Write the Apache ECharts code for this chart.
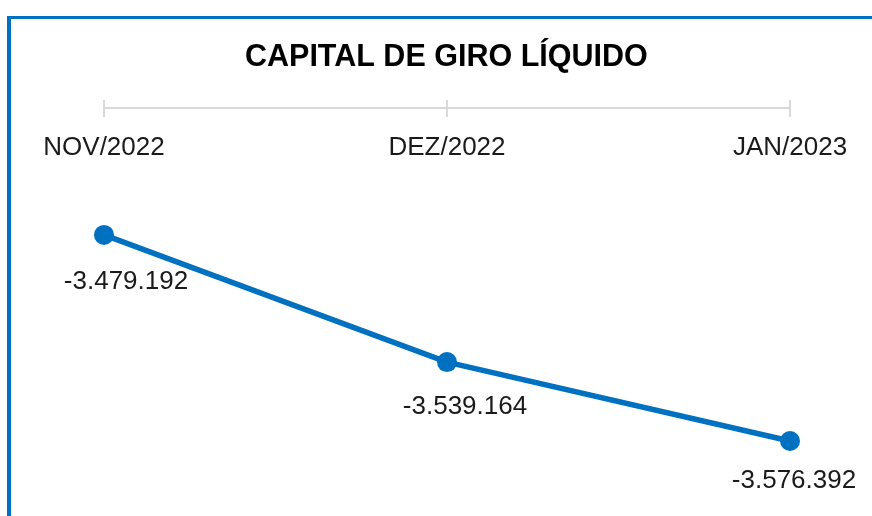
<!DOCTYPE html>
<html>
<head>
<meta charset="utf-8">
<script src="https://cdn.jsdelivr.net/npm/echarts@6/dist/echarts.min.js"></script>
<style>
  html, body { margin: 0; padding: 0; background: #fff; }
  #wrap { position: relative; width: 872px; height: 516px; overflow: hidden; }
  #chart { position: absolute; left: 0; top: 0; width: 872px; height: 516px; }
  /* moldura azul (topo + esquerda) como no Excel */
  #frame { position: absolute; left: 7px; top: 16px; right: -10px; bottom: -10px;
           border-left: 4px solid #0070c0; border-top: 3px solid #0070c0; pointer-events: none; }
</style>
</head>
<body>
<div id="wrap">
  <div id="chart"></div>
  <div id="frame"></div>
</div>
<script>
const title = 'CAPITAL DE GIRO LÍQUIDO';
const months = ['NOV/2022', 'DEZ/2022', 'JAN/2023'];
const capitalGiro = [-3479192, -3539164, -3576392];

// deslocamento dos rótulos em relação ao ponto (ajustados à mão no original)
const labelNudge = [[22, 47], [18, 45], [4, 40]];

const blue = '#0070c0';
const font = '"Liberation Sans", Arial, sans-serif';

const fmt = (v) => {
  const s = Math.abs(Math.round(v)).toString().replace(/\B(?=(\d{3})+(?!\d))/g, '.');
  return (v < 0 ? '-' : '') + s;
};

const chart = echarts.init(document.getElementById('chart'));

const baseAxis = {
  type: 'category',
  data: months,
  position: 'top',
  boundaryGap: false,
};

chart.setOption({
  animation: false,
  title: {
    text: title,
    left: 240,
    top: 37,
    textStyle: { fontFamily: font, fontSize: 30.5, fontWeight: 'bold', color: '#000' },
  },
  grid: { left: 104, right: 82, top: 108, bottom: 25 },
  xAxis: [
    {
      ...baseAxis,
      axisLine: { lineStyle: { color: '#d9d9d9', width: 2 } },
      axisTick: { alignWithLabel: true, length: 8, lineStyle: { color: '#d9d9d9', width: 2 } },
      axisLabel: {
        inside: true,
        margin: 27,
        fontFamily: font,
        fontSize: 26,
        color: '#1a1a1a',
      },
    },
    {
      ...baseAxis,
      axisLine: { show: false },
      axisTick: { inside: true, length: 9, lineStyle: { color: '#d9d9d9', width: 2 } },
      axisLabel: { show: false },
    },
  ],
  yAxis: {
    type: 'value',
    min: -3600000,
    max: -3419300,
    show: false,
  },
  series: [
    {
      type: 'line',
      data: capitalGiro.map((v, i) => ({
        value: v,
        label: { offset: labelNudge[i] },
      })),
      symbol: 'circle',
      symbolSize: 20,
      lineStyle: { color: blue, width: 5.5 },
      itemStyle: { color: blue },
      label: {
        show: true,
        position: 'inside',
        formatter: (p) => fmt(p.value),
        fontFamily: font,
        fontSize: 26,
        color: '#1a1a1a',
      },
    },
  ],
});
</script>
</body>
</html>
